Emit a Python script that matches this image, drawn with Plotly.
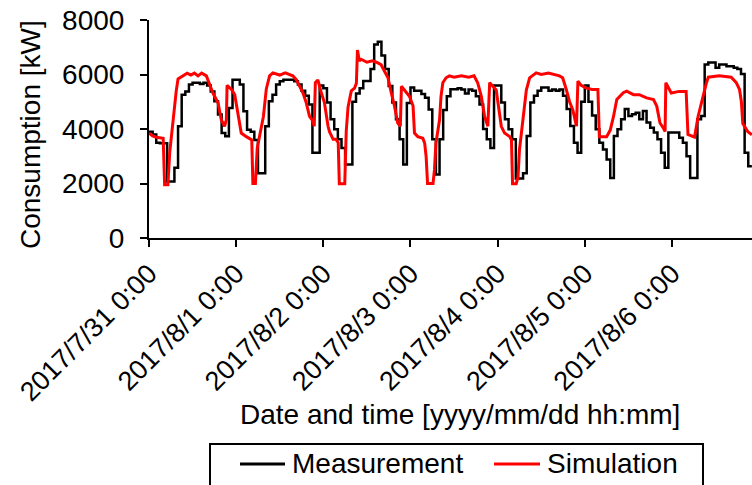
import pandas as pd
import plotly.graph_objects as go

start = pd.Timestamp("2017-07-31 00:00")

# Measurement: hourly values (hour 0 = 2017/7/31 0:00)
meas_values = [
    3900, 3800, 3500, 3480, 3480, 2070, 2070, 2580, 4100, 5260, 5380, 5630,
    5700, 5700, 5650, 5700, 5600, 5380, 5020, 4530, 3850, 3730, 4770, 5810,
    5810, 5630, 4650, 3970, 3900, 3600, 2380, 2380, 4100, 5020, 5260, 5630,
    5750, 5810, 5810, 5810, 5750, 5630, 5400, 5220, 4900, 3130, 3130, 5600,
    5500, 4970, 4360, 3990, 3620, 3300, 2700, 2700, 5000, 5300, 5500, 5760,
    5760, 6200, 7100, 7200, 6700, 6200, 5580, 4970, 4360, 3620, 2700, 4950,
    5520, 5400, 5400, 5280, 5150, 4720, 3620, 2330, 3620, 4700, 5200, 5460,
    5460, 5500, 5450, 5300, 5450, 5400, 5200, 4900, 4000, 3620, 3300, 5600,
    5600, 4970, 4360, 3990, 3620, 2180, 2180, 2380, 3740, 4970, 5220, 5400,
    5520, 5520, 5400, 5450, 5400, 5450, 5220, 4730, 4110, 3500, 3130, 5000,
    5600, 5000, 4500, 3990, 3500, 3250, 2880, 2200, 3740, 3990, 4360, 4730,
    4480, 4540, 4600, 4360, 4660, 4240, 4050, 3870, 3620, 3130, 2580, 3870,
    3870, 3870, 3680, 3500, 3000, 2200, 2200, 4360, 4480, 6370, 6440, 6440,
    6250, 6370, 6370, 6300, 6300, 6250, 6200, 6020, 3130, 2630, 2630,
]
meas_hours = list(range(len(meas_values)))

# Simulation: (hour offset, value) points
sim_hours = [
    0, 1, 2, 3.9, 4.3, 5.2, 5.7, 6.6, 7.5, 8, 9.4, 10.5, 11.5, 12.5, 13.5, 14.5,
    15.8, 16.7, 17.6, 19, 19.9, 20.8, 21.3, 21.5, 22.7, 23.6,
    24.5, 25.4, 26.8, 28.3, 28.6, 29.3, 29.8, 30.7, 31.5, 32.3, 33.2, 34.1, 36,
    37.5, 39.6, 40.6, 41.5, 42.4, 43.3, 44.2, 45.1, 45.5, 45.8, 46.5, 47.4,
    48.3, 49.3, 49.7, 50.7, 51.5, 52.1, 52.4, 53.9, 54.3, 54.8, 55.7, 56.6,
    57.1, 57.4, 57.9, 58.4, 60, 61.5, 62.6, 63.9, 64.9, 65.8, 66.7, 67.6, 68.5,
    69.2, 69.5, 70.4, 71.7,
    72.7, 73.1, 74, 75.4, 75.9, 76.3, 76.7, 78.2, 78.6, 79, 80, 80.4, 80.9,
    81.8, 82.7, 84, 86, 88, 89.5, 90.5, 91.5, 92.4, 93.3, 93.8,
    95.6, 96.5, 97, 97.9, 99.3, 99.8, 100.1, 101.1, 101.6, 102, 102.9, 103.9,
    104.8, 106.6, 108, 110, 113, 113.9, 114.9, 115.8, 116.7, 117.7, 118.1, 119,
    120.4, 122, 123.6, 124, 126, 127, 127.9, 128.8, 130.6, 131.5, 133.4, 135,
    137, 138.9, 139.8, 140.7, 141.6, 142.1, 142.3, 143.8,
    146, 147.9, 148.4, 150.2, 151.2, 152.1, 153.5, 154, 157, 160.3, 161.7,
    162.6, 163.1, 163.5, 164.9, 166,
]
sim_values = [
    3850, 3750, 3700, 3660, 1950, 1950, 3130, 4360, 5400, 5840, 5950, 6050,
    5980, 6050, 5950, 6050, 5950, 5600, 5320, 4960, 4340, 4100, 4340, 5600,
    5450, 5260,
    4590, 3850, 3720, 3600, 2000, 2000, 3300, 4000, 4460, 5470, 5950, 6060,
    5980, 6060, 5950, 5800, 5560, 5320, 4960, 4460, 4300, 4100, 5700, 5800,
    5350,
    4970, 4100, 3900, 3620, 3620, 3500, 1990, 1990, 3900, 4800, 5400, 5500,
    5680, 6900, 6500, 6560, 6450, 6500, 6450, 6360, 6100, 5880, 5330, 4840,
    4220, 4100, 5570, 5400, 5200,
    4850, 3850, 3720, 3660, 3480, 3000, 2000, 2000, 2500, 3480, 4340, 5200,
    5700, 5880, 5950, 5900, 5950, 5900, 5950, 5700, 5200, 4460, 4100, 5700,
    5430, 4470, 4100, 3850, 3720, 3600, 1990, 1990, 2230, 3230, 4340, 5430,
    5880, 6060, 6000, 6050, 5950, 5880, 5450, 5000, 4700, 4100, 5760, 5600,
    5500, 5450, 5450, 3720, 3720, 3960, 4460, 5080, 5330, 5390, 5260, 5260,
    5140, 5080, 4840, 4220, 4040, 3910, 5700, 5320,
    5380, 5380, 3800, 3700, 4470, 5000, 5700, 5900, 5950, 5900, 5700,
    5450, 5000, 4200, 3900, 3790,
]

tick_labels = [
    "2017/7/31 0:00", "2017/8/1 0:00", "2017/8/2 0:00", "2017/8/3 0:00",
    "2017/8/4 0:00", "2017/8/5 0:00", "2017/8/6 0:00",
]
y_ticks = [0, 2000, 4000, 6000, 8000]
series_names = ["Measurement", "Simulation"]
series_colors = ["#000000", "#ff0000"]

meas_x = [start + pd.Timedelta(hours=h) for h in meas_hours]
sim_x = [start + pd.Timedelta(hours=h) for h in sim_hours]
tick_x = [start + pd.Timedelta(days=i) for i in range(len(tick_labels))]

FONT = "Liberation Sans, Arial, sans-serif"
FS = 28
W, H = 752, 485
L, R, T, B = 149, 0, 20, 247
PW, PH = W - L - R, H - T - B


def px(xp):
    return (xp - L) / PW


def py(yp):
    return (H - B - yp) / PH


fig = go.Figure()
fig.add_trace(go.Scatter(
    x=meas_x, y=meas_values, mode="lines", name=series_names[0],
    line=dict(color=series_colors[0], width=2.5, shape="hv"),
))
fig.add_trace(go.Scatter(
    x=sim_x, y=sim_values, mode="lines", name=series_names[1],
    line=dict(color=series_colors[1], width=3),
))

# Legend drawn as a framed box (extends beyond the bottom edge, as in the original)
shapes = [dict(type="rect", xref="paper", yref="paper",
               x0=px(210), x1=px(703), y0=py(444), y1=py(520),
               line=dict(color="#000000", width=2), fillcolor="white", layer="above")]
annotations = []
legend_items = [(240, 285, 290), (494, 540, 545)]
for (lx0, lx1, tx), name, color in zip(legend_items, series_names, series_colors):
    shapes.append(dict(type="line", xref="paper", yref="paper",
                       x0=px(lx0), x1=px(lx1), y0=py(464), y1=py(464),
                       line=dict(color=color, width=3), layer="above"))
    annotations.append(dict(text=name, xref="paper", yref="paper",
                            x=px(tx), y=py(464), xanchor="left", yanchor="middle",
                            showarrow=False,
                            font=dict(family=FONT, size=FS, color="#000000")))

annotations.append(dict(
    text="Date and time [yyyy/mm/dd hh:mm]", xref="paper", yref="paper",
    x=px(460), y=py(414), xanchor="center", yanchor="middle", showarrow=False,
    font=dict(family=FONT, size=FS, color="#000000"),
))
annotations.append(dict(
    text="Consumption [kW]", xref="paper", yref="paper", textangle=-90,
    x=px(30), y=py(135), xanchor="center", yanchor="middle", showarrow=False,
    font=dict(family=FONT, size=FS, color="#000000"),
))

fig.update_layout(
    width=W, height=H,
    margin=dict(l=L, r=R, t=T, b=B, autoexpand=False),
    paper_bgcolor="white", plot_bgcolor="white",
    font=dict(family=FONT, size=FS, color="#000000"),
    showlegend=False,
    xaxis=dict(
        range=[start, start + pd.Timedelta(hours=166.03)],
        tickvals=tick_x, ticktext=tick_labels, tickangle=-45,
        ticks="outside", ticklen=7, tickwidth=2, tickcolor="#000000",
        showline=True, linecolor="#000000", linewidth=2,
        showgrid=False, zeroline=False,
        tickfont=dict(family=FONT, size=27, color="#000000"),
    ),
    yaxis=dict(
        range=[0, 8000], tickvals=y_ticks,
        ticks="outside", ticklen=7, tickwidth=2, tickcolor="#000000",
        ticklabelstandoff=10,
        showline=True, linecolor="#000000", linewidth=2,
        showgrid=False, zeroline=False,
        tickfont=dict(family=FONT, size=FS, color="#000000"),
    ),
    shapes=shapes,
    annotations=annotations,
)

fig.write_html("out.html")
